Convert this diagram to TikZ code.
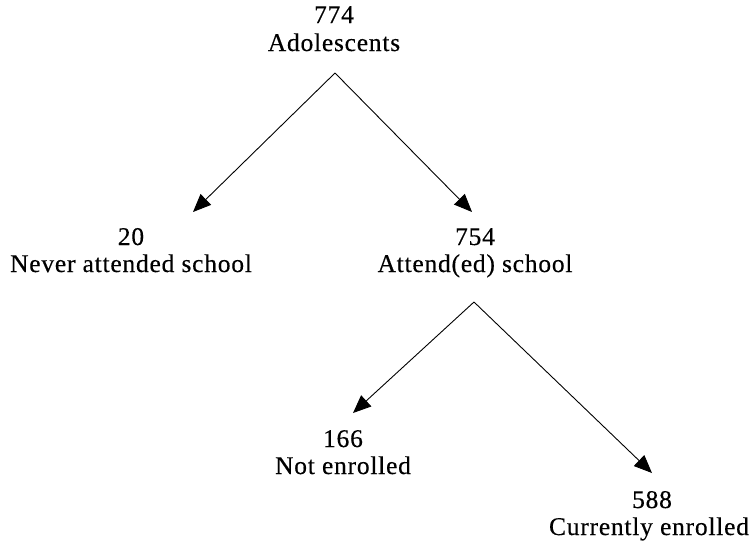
\documentclass[tikz,border=0pt]{standalone}
\usepackage{fontspec}
\setmainfont{Liberation Serif}[LetterSpace=3,FakeBold=0.4]
\usetikzlibrary{arrows.meta}
\begin{document}
\begin{tikzpicture}[x=1pt,y=-1pt,
  txt/.style={anchor=base, inner sep=0pt, font=\fontsize{25.5}{29}\selectfont},
  arr/.style={line width=0.9pt, -{Triangle[length=18pt,width=15pt]}}]
\useasboundingbox (0,0) rectangle (751,542);
% texts
\node[txt] (n774) at (334,23) {774};
\node[txt] (adol) at (334,51) {Adolescents};
\node[txt] (n20) at (131,245) {20};
\node[txt] (never) at (131,272) {Never attended school};
\node[txt] (n754) at (475,245) {754};
\node[txt] (attend) at (475,272) {Attend(ed) school};
\node[txt] (n166) at (343,447) {166};
\node[txt] (noten) at (343,474) {Not enrolled};
\node[txt] (n588) at (652,508) {588};
\node[txt] (curr) at (649,535) {Currently enrolled};
% connector end points
\coordinate (apexA) at (335,73);
\coordinate (tipNever) at (193,212);
\coordinate (tipAttend) at (472,212);
\coordinate (apexB) at (474,302);
\coordinate (tipNot) at (353,413);
\coordinate (tipCurr) at (652,473);
% connectors
\draw[arr] (apexA) -- (tipNever);
\draw[arr] (apexA) -- (tipAttend);
\draw[arr] (apexB) -- (tipNot);
\draw[arr] (apexB) -- (tipCurr);
\end{tikzpicture}
\end{document}
